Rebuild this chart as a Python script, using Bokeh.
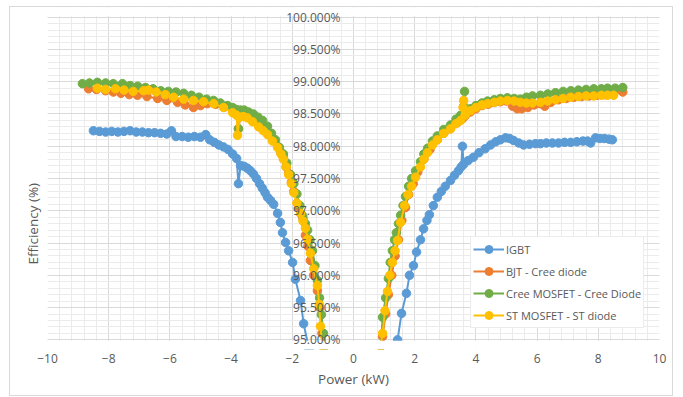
import math
from bokeh.plotting import figure
from bokeh.models import (ColumnDataSource, SingleIntervalTicker, FixedTicker, Legend,
                          LegendItem, Range1d, Grid, LinearAxis, Title, BoxAnnotation)
from bokeh.embed import file_html
from bokeh.resources import INLINE

series_names = ["IGBT", "BJT - Cree diode", "Cree MOSFET - Cree Diode", "ST MOSFET - ST diode"]
series_colors = ["#5B9BD5", "#ED7D31", "#70AD47", "#FFC000"]

# ---- IGBT ----
igbt_neg_x = [-8.5, -8.3, -8.1, -7.9, -7.7, -7.5, -7.3, -7.1, -6.9, -6.7,
              -6.5, -6.3, -6.1, -5.95, -5.8, -5.6, -5.4, -5.2, -5.0, -4.83,
              -4.7, -4.55, -4.4, -4.25, -4.1, -3.95, -3.82, -3.76, -3.69, -3.58,
              -3.47, -3.37, -3.27, -3.17, -3.07, -2.98, -2.89, -2.81, -2.71, -2.61,
              -2.48, -2.39, -2.32, -2.22, -2.12, -1.99, -1.90, -1.73, -1.63, -1.45]
igbt_neg_y = [98.24, 98.23, 98.22, 98.23, 98.22, 98.23, 98.24, 98.22, 98.22, 98.21,
              98.21, 98.20, 98.19, 98.24, 98.15, 98.15, 98.14, 98.15, 98.14, 98.18,
              98.10, 98.06, 98.02, 97.99, 97.95, 97.88, 97.81, 97.42, 97.70, 97.69,
              97.66, 97.62, 97.57, 97.50, 97.42, 97.35, 97.28, 97.21, 97.16, 97.10,
              96.96, 96.82, 96.66, 96.51, 96.38, 96.20, 95.94, 95.61, 95.25, 94.85]
igbt_pos_x = [1.44, 1.57, 1.73, 1.83, 1.96, 2.06, 2.19, 2.29, 2.40, 2.48,
              2.61, 2.74, 2.87, 3.0, 3.17, 3.3, 3.43, 3.52, 3.56, 3.60,
              3.75, 3.92, 4.1, 4.3, 4.48, 4.65, 4.8, 4.97, 5.1, 5.23,
              5.4, 5.56, 5.75, 5.95, 6.11, 6.3, 6.5, 6.7, 6.9, 7.1,
              7.3, 7.5, 7.65, 7.75, 7.91, 8.05, 8.2, 8.35, 8.46]
igbt_pos_y = [95.0, 95.41, 95.72, 96.0, 96.15, 96.36, 96.55, 96.72, 96.85, 96.94,
              97.08, 97.21, 97.30, 97.38, 97.47, 97.55, 97.62, 97.68, 98.0, 97.72,
              97.78, 97.83, 97.90, 97.96, 98.02, 98.07, 98.10, 98.13, 98.12, 98.09,
              98.05, 98.02, 98.03, 98.04, 98.04, 98.05, 98.05, 98.05, 98.06, 98.06,
              98.07, 98.08, 98.08, 98.05, 98.13, 98.12, 98.12, 98.11, 98.10]

# ---- BJT - Cree diode ----
bjt_neg_x = [-8.66, -8.4, -8.1, -7.85, -7.6, -7.33, -7.06, -6.75, -6.4, -6.1,
             -5.75, -5.5, -5.23, -5.0, -4.78, -4.5, -4.2, -3.95, -3.82, -3.76,
             -3.69, -3.55, -3.4, -3.25, -3.1, -2.95, -2.81, -2.65, -2.48, -2.37,
             -2.29, -2.2, -2.12, -2.03, -1.95, -1.80, -1.71, -1.65, -1.57, -1.49,
             -1.41, -1.30, -1.18, -1.10, -1.03, -0.98]
bjt_neg_y = [98.89, 98.88, 98.86, 98.84, 98.82, 98.80, 98.79, 98.77, 98.74, 98.71,
             98.68, 98.64, 98.60, 98.63, 98.66, 98.65, 98.61, 98.55, 98.50, 98.27,
             98.50, 98.48, 98.44, 98.39, 98.34, 98.28, 98.22, 98.12, 98.00, 97.90,
             97.82, 97.68, 97.58, 97.44, 97.30, 97.05, 96.95, 96.88, 96.62, 96.45,
             96.23, 96.00, 95.76, 95.50, 95.10, 94.90]
bjt_pos_x = [0.90, 0.95, 1.05, 1.14, 1.25, 1.36, 1.47, 1.58, 1.70, 1.80,
             1.95, 2.10, 2.30, 2.50, 2.74, 2.95, 3.17, 3.40, 3.55, 3.60,
             3.65, 3.82, 4.0, 4.2, 4.4, 4.6, 4.8, 5.0, 5.2, 5.35,
             5.5, 5.7, 5.9, 6.1, 6.25, 6.45, 6.7, 6.95, 7.2, 7.45,
             7.7, 7.95, 8.2, 8.5, 8.8]
bjt_pos_y = [94.9, 95.05, 95.4, 95.7, 96.0, 96.3, 96.55, 96.85, 97.05, 97.25,
             97.42, 97.60, 97.80, 97.95, 98.10, 98.20, 98.27, 98.37, 98.42, 98.62,
             98.47, 98.53, 98.58, 98.63, 98.65, 98.68, 98.69, 98.70, 98.62, 98.58,
             98.58, 98.60, 98.64, 98.66, 98.62, 98.68, 98.72, 98.74, 98.76, 98.77,
             98.78, 98.79, 98.80, 98.82, 98.84]

# ---- Cree MOSFET - Cree Diode ----
cree_neg_x = [-8.86, -8.63, -8.37, -8.1, -7.85, -7.55, -7.3, -7.05, -6.8, -6.55,
              -6.3, -6.05, -5.8, -5.55, -5.3, -5.05, -4.8, -4.57, -4.35, -4.12,
              -3.95, -3.82, -3.76, -3.69, -3.57, -3.43, -3.27, -3.12, -2.97, -2.81,
              -2.68, -2.55, -2.42, -2.29, -2.18, -2.06, -1.95, -1.85, -1.75, -1.66,
              -1.57, -1.50, -1.42, -1.34, -1.26, -1.18, -1.11, -1.05, -0.98, -0.93]
cree_neg_y = [98.97, 98.98, 98.99, 98.98, 98.97, 98.97, 98.94, 98.93, 98.91, 98.89,
              98.86, 98.85, 98.84, 98.82, 98.79, 98.76, 98.73, 98.71, 98.67, 98.63,
              98.60, 98.57, 98.27, 98.56, 98.56, 98.53, 98.50, 98.45, 98.40, 98.31,
              98.20, 98.10, 97.98, 97.88, 97.74, 97.56, 97.42, 97.26, 97.08, 96.92,
              96.80, 96.70, 96.55, 96.38, 96.15, 95.92, 95.65, 95.39, 95.10, 94.90]
cree_pos_x = [0.90, 0.95, 1.05, 1.14, 1.20, 1.27, 1.34, 1.40, 1.47, 1.54,
              1.62, 1.70, 1.80, 1.90, 2.03, 2.19, 2.30, 2.42, 2.58, 2.74,
              2.95, 3.17, 3.35, 3.50, 3.63, 3.70, 3.82, 4.0, 4.2, 4.38,
              4.6, 4.8, 5.03, 5.25, 5.45, 5.65, 5.85, 6.11, 6.35, 6.6,
              6.85, 7.1, 7.35, 7.6, 7.85, 8.1, 8.3, 8.55, 8.8]
cree_pos_y = [94.9, 95.35, 95.65, 95.95, 96.2, 96.38, 96.55, 96.66, 96.80, 96.93,
              97.08, 97.22, 97.38, 97.50, 97.62, 97.76, 97.88, 97.97, 98.08, 98.16,
              98.26, 98.33, 98.42, 98.48, 98.85, 98.52, 98.58, 98.63, 98.67, 98.70,
              98.72, 98.74, 98.75, 98.74, 98.73, 98.76, 98.78, 98.79, 98.81, 98.83,
              98.85, 98.86, 98.87, 98.88, 98.89, 98.89, 98.90, 98.90, 98.91]

# ---- ST MOSFET - ST diode ----
st_neg_x = [-8.37, -8.1, -7.78, -7.5, -7.2, -6.86, -6.7, -6.45, -6.15, -5.88,
            -5.55, -5.23, -4.9, -4.57, -4.25, -3.95, -3.82, -3.79, -3.72, -3.6,
            -3.47, -3.3, -3.1, -2.95, -2.81, -2.65, -2.48, -2.37, -2.29, -2.20,
            -2.12, -2.03, -1.95, -1.85, -1.73, -1.65, -1.57, -1.50, -1.41, -1.30,
            -1.18, -1.12, -1.08, -1.02]
st_neg_y = [98.90, 98.88, 98.89, 98.87, 98.85, 98.86, 98.87, 98.84, 98.80, 98.76,
            98.73, 98.71, 98.69, 98.66, 98.60, 98.52, 98.48, 98.17, 98.45, 98.46,
            98.44, 98.38, 98.30, 98.24, 98.18, 98.08, 97.98, 97.88, 97.80, 97.68,
            97.56, 97.42, 97.28, 97.12, 96.96, 96.84, 96.73, 96.56, 96.34, 96.10,
            95.84, 95.55, 95.21, 94.90]
st_pos_x = [0.88, 0.95, 1.03, 1.11, 1.19, 1.27, 1.36, 1.44, 1.54, 1.67,
            1.78, 1.90, 2.03, 2.19, 2.30, 2.42, 2.58, 2.74, 2.95, 3.17,
            3.35, 3.50, 3.58, 3.60, 3.65, 3.82, 4.0, 4.2, 4.38, 4.6,
            4.8, 5.03, 5.25, 5.45, 5.65, 5.85, 6.11, 6.35, 6.6, 6.85,
            7.1, 7.35, 7.6, 7.85, 8.1, 8.3, 8.5]
st_pos_y = [94.9, 95.10, 95.45, 95.75, 96.0, 96.2, 96.38, 96.54, 96.82, 97.08,
            97.25, 97.38, 97.52, 97.68, 97.80, 97.90, 98.02, 98.10, 98.20, 98.27,
            98.35, 98.40, 98.60, 98.71, 98.48, 98.55, 98.60, 98.64, 98.66, 98.68,
            98.70, 98.71, 98.70, 98.68, 98.67, 98.67, 98.68, 98.70, 98.72, 98.74,
            98.76, 98.77, 98.78, 98.78, 98.79, 98.79, 98.79]

y_min, y_max = 95.0, 100.0
x_min, x_max = -10, 10
y_tick_vals = [95.0, 95.5, 96.0, 96.5, 97.0, 97.5, 98.0, 98.5, 99.0, 99.5, 100.0]
y_tick_labels = ["95.000%", "95.500%", "96.000%", "96.500%", "97.000%", "97.500%",
                 "98.000%", "98.500%", "99.000%", "99.500%", "100.000%"]
x_title = "Power (kW)"
y_title = "Efficiency (%)"

FONT = "Open Sans"
TXT = "#595959"
PAD = 0.15   # room for the end tick labels; masked out below
EPS = 0.015

p = figure(width=664, height=390, x_range=Range1d(x_min, x_max),
           y_range=Range1d(y_min - PAD, y_max + PAD),
           output_backend="svg", toolbar_location=None, y_axis_location=None,
           min_border_left=37, min_border_top=0, min_border_right=15, min_border_bottom=48)
p.styles = {"border": "1px solid #D9D9D9", "margin": "6px 0px 0px 9px"}
p.outline_line_color = None
p.background_fill_color = "white"
p.border_fill_color = "white"

xt = SingleIntervalTicker(interval=2, num_minor_ticks=5)
p.xaxis.ticker = xt
p.xgrid.ticker = xt
p.xgrid.grid_line_color = "#D9D9D9"
p.xgrid.minor_grid_line_color = "#EBEBEB"
p.xaxis.axis_line_color = None
p.xaxis.major_tick_line_color = None
p.xaxis.minor_tick_line_color = None
p.xaxis.major_label_standoff = -2
p.xaxis.major_label_text_font = FONT
p.xaxis.major_label_text_font_size = "12px"
p.xaxis.major_label_text_color = TXT
p.xaxis.axis_label = x_title
p.xaxis.axis_label_text_font = FONT
p.xaxis.axis_label_text_font_size = "13.5px"
p.xaxis.axis_label_text_font_style = "normal"
p.xaxis.axis_label_text_color = TXT
p.xaxis.axis_label_standoff = 4

yg = Grid(dimension=1, ticker=SingleIntervalTicker(interval=0.5, num_minor_ticks=5),
          grid_line_color="#D9D9D9", minor_grid_line_color="#EBEBEB")
p.add_layout(yg)

items = []
pairs = [(igbt_neg_x, igbt_neg_y, igbt_pos_x, igbt_pos_y),
         (bjt_neg_x, bjt_neg_y, bjt_pos_x, bjt_pos_y),
         (cree_neg_x, cree_neg_y, cree_pos_x, cree_pos_y),
         (st_neg_x, st_neg_y, st_pos_x, st_pos_y)]
for name, col, (nx, ny, px_, py_) in zip(series_names, series_colors, pairs):
    xs = list(nx) + [math.nan] + list(px_)
    ys = list(ny) + [math.nan] + list(py_)
    src = ColumnDataSource(dict(x=xs, y=ys))
    lr = p.line("x", "y", source=src, line_color=col, line_width=2)
    sr = p.scatter("x", "y", source=src, size=8.5, fill_color=col, line_color=col)
    items.append(LegendItem(label=name, renderers=[lr, sr]))

# white masks outside the 95 % .. 100 % plot area
p.add_layout(BoxAnnotation(bottom=y_max + EPS, fill_color="white", fill_alpha=1,
                           line_color=None))
p.add_layout(BoxAnnotation(top=y_min - EPS, fill_color="white", fill_alpha=1,
                           line_color=None))

# y axis drawn at x = 0 (inside the plot, as in the original)
yax = LinearAxis(fixed_location=0, ticker=FixedTicker(ticks=y_tick_vals),
                 major_label_overrides=dict(zip(y_tick_vals, y_tick_labels)))
yax.axis_line_color = None
yax.major_tick_line_color = None
yax.minor_tick_line_color = None
yax.major_label_standoff = 7
yax.major_label_text_font = FONT
yax.major_label_text_font_size = "12px"
yax.major_label_text_color = TXT
yax.level = "overlay"
p.add_layout(yax, "left")

ytitle = Title(text=y_title, align="left", offset=85, text_font=FONT,
               text_font_size="13.5px", text_font_style="normal", text_color=TXT,
               standoff=11)
p.add_layout(ytitle, "left")

legend = Legend(items=items, location=(423, 21), orientation="vertical")
legend.border_line_color = "#D9D9D9"
legend.background_fill_color = "white"
legend.background_fill_alpha = 1
legend.label_text_font = FONT
legend.label_text_font_size = "11px"
legend.label_text_color = TXT
legend.glyph_width = 31
legend.glyph_height = 20
legend.label_height = 20
legend.spacing = 2
legend.padding = 2
legend.margin = 0
legend.label_standoff = 2
p.add_layout(legend, "center")

open("out.html", "w").write(file_html(p, INLINE))
